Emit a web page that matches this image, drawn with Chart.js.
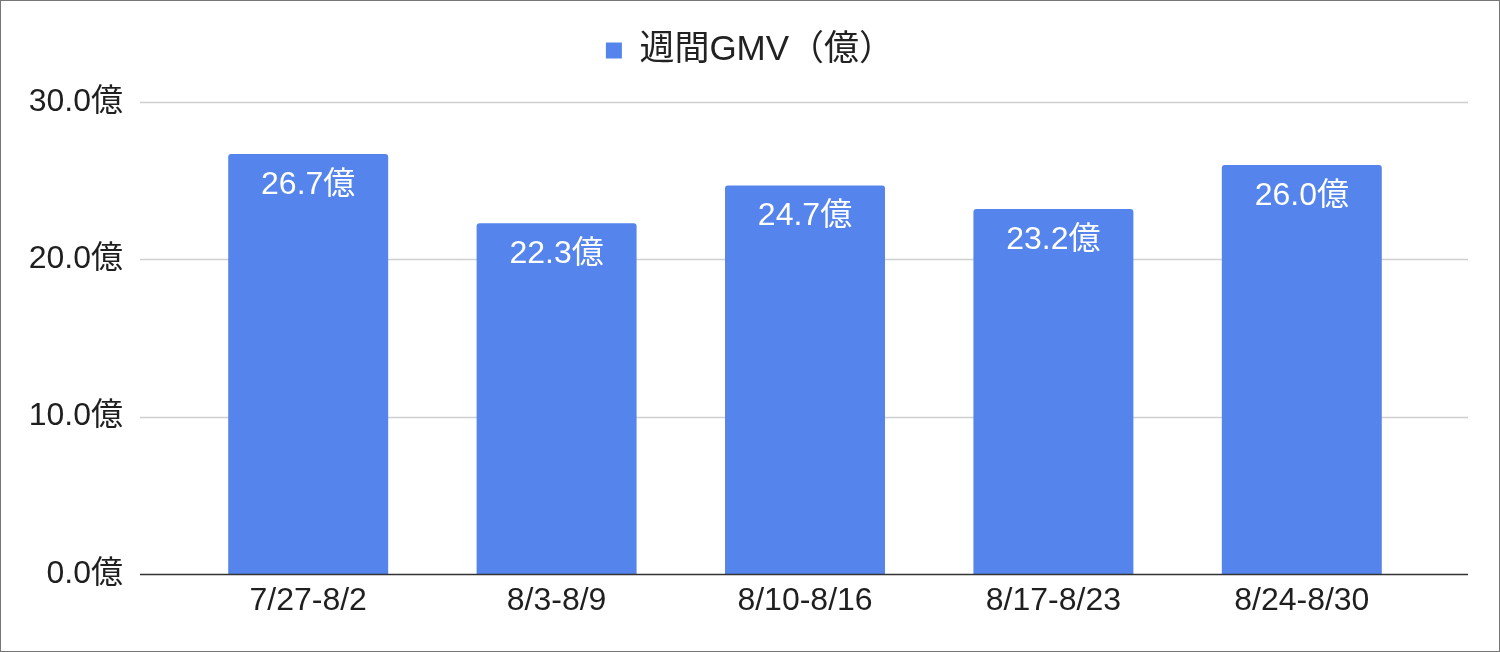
<!DOCTYPE html>
<html lang="ja">
<head>
<meta charset="utf-8">
<title>週間GMV</title>
<script src="https://cdn.jsdelivr.net/npm/chart.js@4.4.1/dist/chart.umd.min.js"></script>
<style>
    html, body {
        margin: 0;
        padding: 0;
        background: #ffffff;
    }

    .frame {
        width: 1500px;
        height: 652px;
        box-sizing: border-box;
        border: 1px solid #767676;
        background: #ffffff;
    }

    .chart-box {
        position: relative;
        width: 1498px;
        height: 650px;
    }
</style>
</head>
<body>

<div class="frame">
    <div class="chart-box">
        <canvas id="gmvChart"></canvas>
    </div>
</div>

<script>
/* ==========================================
   データ
========================================== */

const weekLabels = ["7/27-8/2", "8/3-8/9", "8/10-8/16", "8/17-8/23", "8/24-8/30"];
const gmvValues = [26.7, 22.3, 24.7, 23.2, 26.0];
const yTicks = [0, 10, 20, 30];
const seriesName = "週間GMV（億）";

const FONT = "'Liberation Sans', Arial, 'Noto Sans CJK JP', sans-serif";
const BAR_COLOR = "#5484ec";


/* ==========================================
   グリッド線 (Sheets風に左右へはみ出す)
========================================== */

const wideGrid = {
    id: "wideGrid",

    beforeDatasetsDraw(chart) {
        const y = chart.scales.y;
        const ctx = chart.ctx;
        ctx.save();
        ctx.lineWidth = 1.5;
        ctx.strokeStyle = "#d0d0d0";
        yTicks.forEach(function (v) {
            if (v === 0) return;
            const py = Math.round(y.getPixelForValue(v)) + 0.5;
            ctx.beginPath();
            ctx.moveTo(139, py);
            ctx.lineTo(1467, py);
            ctx.stroke();
        });
        ctx.restore();
    },

    afterDatasetsDraw(chart) {
        const y = chart.scales.y;
        const ctx = chart.ctx;
        const py = Math.round(y.getPixelForValue(0)) + 0.5;
        ctx.save();
        ctx.lineWidth = 1.5;
        ctx.strokeStyle = "#333333";
        ctx.beginPath();
        ctx.moveTo(139, py);
        ctx.lineTo(1467, py);
        ctx.stroke();
        ctx.restore();
    }
};


/* ==========================================
   バー内ラベル
========================================== */

const barLabels = {
    id: "barLabels",

    afterDatasetsDraw(chart) {
        const ctx = chart.ctx;
        const meta = chart.getDatasetMeta(0);
        ctx.save();
        ctx.fillStyle = "#ffffff";
        ctx.font = "32px " + FONT;
        ctx.textAlign = "center";
        ctx.textBaseline = "middle";
        meta.data.forEach(function (bar, i) {
            ctx.fillText(gmvValues[i].toFixed(1) + "億", bar.x, bar.y + 31);
        });
        ctx.restore();
    }
};


/* ==========================================
   グラフ
========================================== */

new Chart(document.getElementById("gmvChart"), {

    type: "bar",

    data: {
        labels: weekLabels,
        datasets: [{
            label: seriesName,
            data: gmvValues,
            backgroundColor: BAR_COLOR,
            borderRadius: { topLeft: 3, topRight: 3 },
            borderSkipped: "start",
            categoryPercentage: 1,
            barPercentage: 0.644
        }]
    },

    options: {
        responsive: true,
        maintainAspectRatio: false,
        animation: false,
        devicePixelRatio: 1,

        layout: {
            padding: 0
        },

        plugins: {
            legend: {
                position: "top",
                labels: {
                    boxWidth: 16,
                    boxHeight: 16,
                    color: "#222222",
                    font: { family: FONT, size: 35 },
                    padding: 32
                }
            },
            // 凡例とグラフの間の余白
            subtitle: {
                display: true,
                text: "",
                weight: 500,
                font: { size: 10 },
                padding: { top: 0, bottom: 12 }
            },
            tooltip: { enabled: false }
        },

        scales: {
            x: {
                grid: { display: false },
                border: { display: false },
                ticks: {
                    color: "#1f1f1f",
                    font: { family: FONT, size: 32 },
                    padding: 0,
                    maxRotation: 0
                },
                afterFit(scale) {
                    scale.height = 77;
                }
            },
            y: {
                min: 0,
                max: 30,
                // 目盛線は描かず、ラベル位置だけ tickLength でずらす
                grid: { display: false, drawTicks: true, tickLength: 61 },
                border: { display: false },
                afterBuildTicks(scale) {
                    scale.ticks = yTicks.map(v => ({ value: v }));
                },
                ticks: {
                    color: "#1f1f1f",
                    font: { family: FONT, size: 32 },
                    padding: 0,
                    callback: v => v.toFixed(1) + "億"
                },
                afterFit(scale) {
                    scale.width = 183;
                }
            },
            // 右側の余白用
            gutter: {
                position: "right",
                display: true,
                grid: { display: false },
                border: { display: false },
                ticks: { display: false },
                afterFit(scale) {
                    scale.width = 73;
                }
            }
        }
    },

    plugins: [wideGrid, barLabels]

});
</script>

</body>
</html>
